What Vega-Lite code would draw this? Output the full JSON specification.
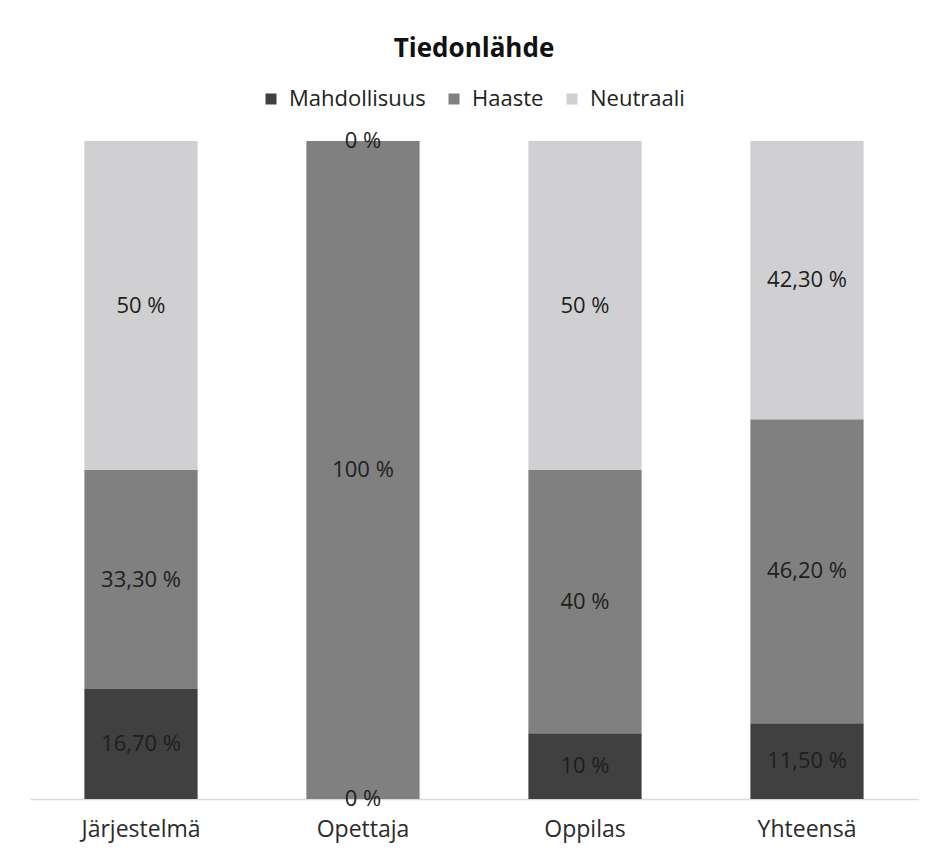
{
  "$schema": "https://vega.github.io/schema/vega-lite/v6.json",
  "width": 888,
  "height": 658,
  "autosize": {"type": "none"},
  "padding": {"left": 30, "top": 141, "right": 9, "bottom": 53},
  "title": {"text": "Tiedonlähde", "font": "Open Sans", "fontSize": 26, "fontWeight": "bold", "color": "#111111", "anchor": "middle", "offset": 26},
  "data": {
    "values": [
      {"lahde": "Järjestelmä", "sarja": "Mahdollisuus", "n": 1, "osuus": 16.7, "teksti": "16,70 %"},
      {"lahde": "Järjestelmä", "sarja": "Haaste", "n": 2, "osuus": 33.3, "teksti": "33,30 %"},
      {"lahde": "Järjestelmä", "sarja": "Neutraali", "n": 3, "osuus": 50, "teksti": "50 %"},
      {"lahde": "Opettaja", "sarja": "Mahdollisuus", "n": 1, "osuus": 0, "teksti": "0 %"},
      {"lahde": "Opettaja", "sarja": "Haaste", "n": 2, "osuus": 100, "teksti": "100 %"},
      {"lahde": "Opettaja", "sarja": "Neutraali", "n": 3, "osuus": 0, "teksti": "0 %"},
      {"lahde": "Oppilas", "sarja": "Mahdollisuus", "n": 1, "osuus": 10, "teksti": "10 %"},
      {"lahde": "Oppilas", "sarja": "Haaste", "n": 2, "osuus": 40, "teksti": "40 %"},
      {"lahde": "Oppilas", "sarja": "Neutraali", "n": 3, "osuus": 50, "teksti": "50 %"},
      {"lahde": "Yhteensä", "sarja": "Mahdollisuus", "n": 1, "osuus": 11.5, "teksti": "11,50 %"},
      {"lahde": "Yhteensä", "sarja": "Haaste", "n": 2, "osuus": 46.2, "teksti": "46,20 %"},
      {"lahde": "Yhteensä", "sarja": "Neutraali", "n": 3, "osuus": 42.3, "teksti": "42,30 %"}
    ]
  },
  "encoding": {
    "x": {
      "field": "lahde",
      "type": "nominal",
      "sort": null,
      "scale": {"paddingInner": 0.49, "paddingOuter": 0.245},
      "axis": {
        "title": null,
        "labelAngle": 0,
        "ticks": false,
        "grid": false,
        "domainColor": "#d9d9d9",
        "domainWidth": 1.5,
        "labelFont": "Open Sans",
        "labelFontSize": 23,
        "labelColor": "#2b2b2b",
        "labelPadding": 19
      }
    }
  },
  "layer": [
    {
      "mark": {"type": "bar"},
      "encoding": {
        "y": {"field": "osuus", "type": "quantitative", "stack": "zero", "scale": {"domain": [0, 100]}, "axis": null},
        "color": {
          "field": "sarja",
          "type": "nominal",
          "scale": {"domain": ["Mahdollisuus", "Haaste", "Neutraali"], "range": ["#404040", "#808080", "#d0cfd1"]},
          "legend": {
            "orient": "none",
            "legendX": 230,
            "legendY": -53,
            "direction": "horizontal",
            "title": null,
            "symbolType": "square",
            "symbolSize": 121,
            "symbolStrokeWidth": 0,
            "labelFont": "Open Sans",
            "labelFontSize": 22,
            "labelColor": "#222222",
            "labelOffset": 7,
            "columnPadding": 17
          }
        },
        "order": {"field": "n", "type": "quantitative"}
      }
    },
    {
      "mark": {"type": "text", "font": "Open Sans", "fontSize": 22, "color": "#1e1e1e"},
      "encoding": {
        "y": {"field": "osuus", "type": "quantitative", "stack": "zero", "bandPosition": 0.5},
        "detail": {"field": "sarja", "type": "nominal"},
        "order": {"field": "n", "type": "quantitative"},
        "text": {"field": "teksti", "type": "nominal"}
      }
    }
  ],
  "config": {"view": {"stroke": null}}
}
